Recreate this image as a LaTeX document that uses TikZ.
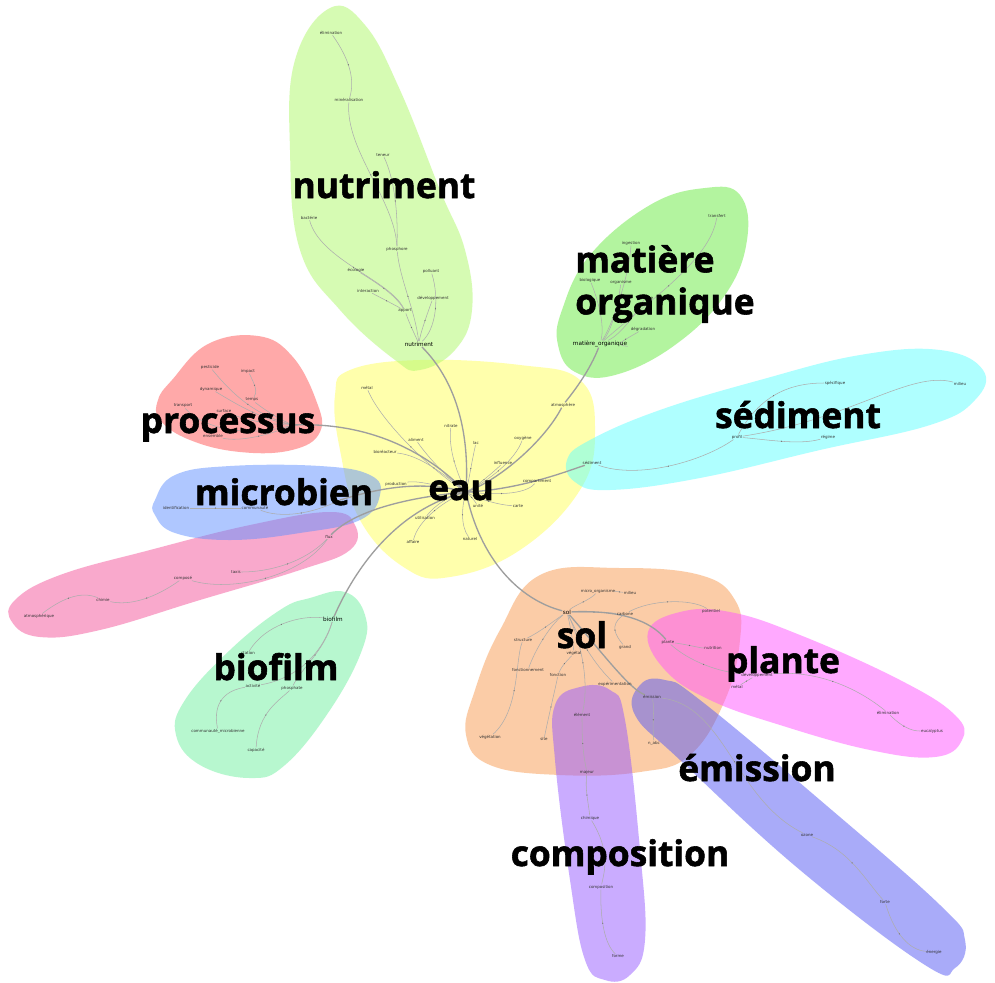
\documentclass[tikz,border=0pt]{standalone}
\usepackage{fontspec}
\setmainfont{Open Sans}
\newfontfamily\labfont{Open Sans}[BoldFeatures={FakeBold=1.6}]
\newfontfamily\smfont{DejaVu Sans}
\usetikzlibrary{decorations.markings}
\pgfdeclarelayer{hull}
\pgfdeclarelayer{edges}
\pgfsetlayers{hull,edges,main}
\definecolor{cnut}{RGB}{175,249,105}
\definecolor{cmo}{RGB}{105,235,65}
\definecolor{ceau}{RGB}{255,255,90}
\definecolor{csed}{RGB}{97,255,255}
\definecolor{cpro}{RGB}{255,85,85}
\definecolor{cmic}{RGB}{97,145,255}
\definecolor{cpink}{RGB}{245,85,155}
\definecolor{cbio}{RGB}{113,241,161}
\definecolor{csol}{RGB}{249,155,81}
\definecolor{cpla}{RGB}{255,85,255}
\definecolor{cemi}{RGB}{85,89,245}
\definecolor{ccom}{RGB}{150,90,255}
\tikzset{
  sm/.style={font=\smfont\fontsize{3}{3.5}\selectfont, text=black!80, inner sep=0.3pt},
  hub/.style={font=\smfont\fontsize{4.3}{5}\selectfont, text=black, inner sep=0.3pt},
  lab/.style={font=\labfont\bfseries\fontsize{26.5}{31.5}\selectfont, inner sep=0pt},
  ed/.style={draw=black!32, line width=0.4pt, postaction={decorate},
    decoration={markings, mark=at position 0.5 with {\fill[black!55] (0,0) circle (0.5pt);}}},
  th/.style={draw=black!38, line width=1pt},
  hullst/.style={fill opacity=0.5, draw=none},
}
\begin{document}
\begin{tikzpicture}[x=0.75pt,y=-0.75pt]
\useasboundingbox (0,0) rectangle (995,982);
\begin{pgfonlayer}{hull}
\fill[white] (0,0) rectangle (995,982);
% eau
\fill[ceau,hullst] plot[smooth cycle, tension=0.7] coordinates {(350,370) (420,360) (520,365) (580,380) (595,430) (580,490) (520,550) (450,577) (405,568) (360,520) (340,450) (335,395)};
% nutriment
\fill[cnut,hullst] plot[smooth cycle, tension=0.7] coordinates {(330,8) (365,25) (400,90) (440,190) (465,250) (472,310) (455,350) (420,370) (395,360) (340,310) (300,250) (290,150) (295,60)};
% matiere organique
\fill[cmo,hullst] plot[smooth cycle, tension=0.7] coordinates {(562,310) (590,255) (650,205) (705,188) (740,195) (747,240) (725,295) (675,345) (615,375) (575,372) (558,345)};
% sediment
\fill[csed,hullst] plot[smooth cycle, tension=0.7] coordinates {(567,460) (590,440) (660,410) (760,380) (860,355) (940,350) (983,370) (975,400) (930,425) (820,450) (700,478) (610,490) (575,482)};
% processus
\fill[cpro,hullst] plot[smooth cycle, tension=0.7] coordinates {(172,380) (208,344) (258,336) (292,356) (316,400) (320,432) (292,450) (240,452) (190,440) (160,420) (158,400)};
% pink
\fill[cpink,hullst] plot[smooth cycle, tension=0.7] coordinates {(15,600) (60,575) (150,550) (250,525) (330,512) (355,525) (350,550) (300,570) (200,600) (100,630) (40,637) (12,622)};
% microbien
\fill[cmic,hullst] plot[smooth cycle, tension=0.7] coordinates {(155,500) (175,475) (230,466) (320,466) (370,475) (380,495) (360,520) (300,533) (230,540) (175,533) (155,515)};
% biofilm
\fill[cbio,hullst] plot[smooth cycle, tension=0.7] coordinates {(310,598) (345,592) (365,615) (362,650) (330,710) (285,765) (250,778) (200,765) (176,735) (185,700) (230,650) (280,610)};
% sol
\fill[csol,hullst] plot[smooth cycle, tension=0.7] coordinates {(540,575) (620,568) (700,575) (735,600) (740,640) (725,700) (690,755) (640,772) (560,775) (490,765) (466,735) (475,690) (500,630)};
% plante
\fill[cpla,hullst] plot[smooth cycle, tension=0.7] coordinates {(648,632) (680,612) (730,612) (800,635) (900,680) (955,715) (962,740) (935,757) (870,750) (780,725) (710,700) (665,670)};
% emission
\fill[cemi,hullst] plot[smooth cycle, tension=0.7] coordinates {(640,685) (665,680) (700,700) (820,800) (940,905) (965,940) (955,968) (925,965) (800,870) (680,760) (635,715)};
% composition
\fill[ccom,hullst] plot[smooth cycle, tension=0.7] coordinates {(555,705) (580,687) (610,690) (625,720) (640,850) (645,940) (630,975) (605,980) (585,960) (570,880) (555,760)};
\end{pgfonlayer}

% ---------- nutriment
\node[sm] (nu1) at (331,33) {élimination};
\node[sm] (nu2) at (349,100) {minéralisation};
\node[sm] (nu3) at (383,155) {teneur};
\node[sm] (nu4) at (309,218) {bactérie};
\node[sm] (nu5) at (397,249) {phosphore};
\node[sm] (nu6) at (356,270) {écologie};
\node[sm] (nu7) at (431,271) {polluant};
\node[sm] (nu8) at (368,291) {interaction};
\node[sm] (nu9) at (433,298) {développement};
\node[sm] (nu10) at (405,311) {apport};
\node[hub] (nut) at (419,344) {nutriment};
% ---------- matiere organique
\node[sm] (mo1) at (717,216) {transfert};
\node[sm] (mo2) at (631,243) {ingestion};
\node[sm] (mo3) at (590,280) {biologique};
\node[sm] (mo4) at (621,282) {organisme};
\node[sm] (mo5) at (645,298) {carbone};
\node[sm] (mo6) at (643,329) {dégradation};
\node[hub] (mo) at (600,344) {matière\_organique};
% ---------- eau
\coordinate (eauhub) at (466,492);
\node[sm] (ea1) at (367,388) {métal};
\node[sm] (ea2) at (451,426) {nitrate};
\node[sm] (ea3) at (476,443) {lac};
\node[sm] (ea4) at (416,440) {aliment};
\node[sm] (ea5) at (385,452) {bioréacteur};
\node[sm] (ea6) at (523,438) {oxygène};
\node[sm] (ea7) at (563,405) {atmosphère};
\node[sm] (ea8) at (503,463) {influence};
\node[sm] (ea9) at (537,481) {compartiment};
\node[sm] (ea10) at (396,484) {production};
\node[sm] (ea11) at (478,506) {unité};
\node[sm] (ea12) at (518,506) {carte};
\node[sm] (ea13) at (425,518) {utilisation};
\node[sm] (ea14) at (413,542) {affaire};
\node[sm] (ea15) at (470,539) {naturel};
% ---------- processus
\node[sm] (pr1) at (210,367) {pesticide};
\node[sm] (pr2) at (248,371) {impact};
\node[sm] (pr3) at (211,389) {dynamique};
\node[sm] (pr4) at (252,400) {temps};
\node[sm] (pr5) at (183,406) {transport};
\node[sm] (pr6) at (224,411) {surface};
\node[sm] (pr7) at (213,436) {ensemble};
\coordinate (prhub) at (293,425);
% ---------- microbien
\node[sm] (mi1) at (176,508) {identification};
\node[sm] (mi2) at (255,508) {communauté};
\coordinate (mihub) at (340,500);
% ---------- pink
\node[sm] (pk1) at (329,537) {flux};
\node[sm] (pk2) at (236,572) {taxis};
\node[sm] (pk3) at (183,578) {composé};
\node[sm] (pk4) at (103,600) {chimie};
\node[sm] (pk5) at (39,616) {atmosphérique};
% ---------- biofilm
\node[hub] (bihub) at (333,619) {biofilm};
\node[sm] (bi1) at (248,653) {station};
\node[sm] (bi2) at (253,686) {activité};
\node[sm] (bi3) at (292,688) {phosphate};
\node[sm] (bi4) at (218,731) {communauté\_microbienne};
\node[sm] (bi5) at (256,750) {capacité};
% ---------- sediment
\node[sm] (sehub) at (592,463) {sédiment};
\node[sm] (se1) at (835,383) {spécifique};
\node[sm] (se2) at (960,384) {milieu};
\node[sm] (se3) at (737,437) {profil};
\node[sm] (se4) at (828,437) {régime};
% ---------- sol
\node[hub] (sohub) at (567,612) {sol};
\node[sm] (so1) at (598,591) {micro\_organisme};
\node[sm] (so2) at (630,593) {milieu};
\node[sm] (so3) at (625,614) {carbone};
\node[sm] (so4) at (711,611) {potentiel};
\node[sm] (so5) at (523,640) {structure};
\node[sm] (so6) at (625,647) {grand};
\node[sm] (so7) at (528,670) {fonctionnement};
\node[sm] (so8) at (574,653) {végétal};
\node[sm] (so9) at (558,675) {fonction};
\node[sm] (so10) at (615,684) {expérimentation};
\node[sm] (so11) at (582,715) {élément};
\node[sm] (so12) at (544,739) {site};
\node[sm] (so13) at (490,737) {végétation};
\node[sm] (so14) at (654,743) {n\_abc};
\node[sm] (so15) at (587,772) {majeur};
% ---------- plante
\node[sm] (plhub) at (668,642) {plante};
\node[sm] (pl1) at (713,648) {nutrition};
\node[sm] (pl2) at (757,675) {développement};
\node[sm] (pl3) at (737,687) {métal};
\node[sm] (pl4) at (888,713) {élimination};
\node[sm] (pl5) at (932,731) {eucalyptus};
% ---------- emission
\node[sm] (emhub) at (652,697) {émission};
\node[sm] (em1) at (807,835) {ozone};
\node[sm] (em2) at (885,902) {forte};
\node[sm] (em3) at (934,952) {énergie};
% ---------- composition
\node[sm] (co1) at (590,818) {chimique};
\node[sm] (co2) at (601,887) {composition};
\node[sm] (co3) at (618,956) {forme};

\begin{pgfonlayer}{edges}
% nutriment
\draw[ed] (nu1) .. controls (350,60) and (355,80) .. (nu2);
\draw[ed] (nu2) .. controls (345,150) and (395,200) .. (nu5);
\draw[ed] (nu3) .. controls (395,180) and (398,215) .. (nu5);
\draw[ed] (nu5) .. controls (400,280) and (415,310) .. (nut);
\draw[ed] (nu4) .. controls (320,260) and (390,280) .. (nu10);
\draw[ed] (nu6) .. controls (380,285) and (395,295) .. (nu10);
\draw[ed] (nu8) .. controls (385,300) and (395,305) .. (nu10);
\draw[ed] (nu10) .. controls (410,325) and (415,335) .. (nut);
\draw[ed] (nu7) .. controls (440,300) and (435,330) .. (nut);
\draw[ed] (nu9) .. controls (425,320) and (420,335) .. (nut);
\draw[th] (nut) .. controls (455,380) and (470,430) .. (eauhub);
% matiere organique
\draw[ed] (mo1) .. controls (710,260) and (650,300) .. (mo);
\draw[ed] (mo2) .. controls (630,270) and (615,320) .. (mo);
\draw[ed] (mo3) .. controls (598,300) and (605,325) .. (mo);
\draw[ed] (mo4) .. controls (618,305) and (612,330) .. (mo);
\draw[ed] (mo5) .. controls (635,315) and (620,335) .. (mo);
\draw[ed] (mo6) .. controls (625,340) and (612,345) .. (mo);
\draw[th] (mo) .. controls (590,370) and (575,390) .. (ea7);
% eau
\draw[ed] (ea1) .. controls (380,420) and (430,470) .. (eauhub);
\draw[ed] (ea2) .. controls (448,450) and (458,475) .. (eauhub);
\draw[ed] (ea3) .. controls (472,460) and (470,475) .. (eauhub);
\draw[ed] (ea4) .. controls (430,460) and (450,480) .. (eauhub);
\draw[ed] (ea5) .. controls (420,455) and (445,475) .. (eauhub);
\draw[ed] (ea6) .. controls (515,460) and (490,480) .. (eauhub);
\draw[th] (ea7) .. controls (545,440) and (500,480) .. (eauhub);
\draw[ed] (ea8) .. controls (490,475) and (478,485) .. (eauhub);
\draw[ed] (ea9) .. controls (525,495) and (495,495) .. (eauhub);
\draw[ed] (ea10) .. controls (420,480) and (445,488) .. (eauhub);
\draw[ed] (ea11) .. controls (474,500) and (470,495) .. (eauhub);
\draw[ed] (ea12) .. controls (500,505) and (480,500) .. (eauhub);
\draw[ed] (ea13) .. controls (435,505) and (450,495) .. (eauhub);
\draw[ed] (ea14) .. controls (418,520) and (445,500) .. (eauhub);
\draw[ed] (ea15) .. controls (460,525) and (462,505) .. (eauhub);
% processus
\draw[ed] (pr1) .. controls (225,385) and (250,415) .. (prhub);
\draw[ed] (pr2) .. controls (255,385) and (258,392) .. (pr4);
\draw[ed] (pr4) .. controls (265,410) and (280,420) .. (prhub);
\draw[ed] (pr3) .. controls (230,400) and (260,420) .. (prhub);
\draw[ed] (pr5) .. controls (200,425) and (240,440) .. (prhub);
\draw[ed] (pr6) .. controls (245,420) and (270,425) .. (prhub);
\draw[ed] (pr7) .. controls (240,442) and (270,435) .. (prhub);
\draw[th] (prhub) .. controls (360,422) and (420,445) .. (eauhub);
% microbien
\draw[ed] (mi1) .. controls (200,508) and (230,508) .. (mi2);
\draw[ed] (mi2) .. controls (280,518) and (310,515) .. (mihub);
\draw[th] (mihub) .. controls (380,488) and (420,480) .. (eauhub);
% pink
\draw[ed] (pk5) .. controls (60,600) and (80,590) .. (pk4);
\draw[ed] (pk4) .. controls (130,606) and (155,598) .. (pk3);
\draw[ed] (pk3) .. controls (230,592) and (300,578) .. (pk1);
\draw[ed] (pk2) .. controls (270,572) and (305,562) .. (pk1);
\draw[th] (pk1) .. controls (345,520) and (380,500) .. (eauhub);
% biofilm
\draw[ed] (bi1) .. controls (265,625) and (300,615) .. (bihub);
\draw[ed] (bi2) .. controls (290,680) and (320,660) .. (bihub);
\draw[ed] (bi3) .. controls (300,670) and (325,650) .. (bihub);
\draw[ed] (bi4) .. controls (212,700) and (228,690) .. (bi2);
\draw[ed] (bi5) .. controls (258,712) and (280,700) .. (bi3);
\draw[th] (bihub) .. controls (350,580) and (390,510) .. (eauhub);
% sediment
\draw[ed] (se2) .. controls (910,370) and (850,420) .. (se3);
\draw[ed] (se1) .. controls (790,383) and (760,395) .. (se3);
\draw[ed] (se4) .. controls (800,445) and (770,440) .. (se3);
\draw[ed] (se3) .. controls (705,460) and (640,480) .. (sehub);
\draw[th] (sehub) .. controls (570,470) and (520,490) .. (eauhub);
% sol
\draw[th] (sohub) .. controls (520,600) and (480,560) .. (eauhub);
\draw[ed] (so1) .. controls (590,600) and (575,605) .. (sohub);
\draw[ed] (so2) .. controls (620,592) and (612,591) .. (so1);
\draw[ed] (so3) .. controls (600,612) and (585,612) .. (sohub);
\draw[ed] (so4) .. controls (690,598) and (650,600) .. (so3);
\draw[ed] (so5) .. controls (540,632) and (555,620) .. (sohub);
\draw[ed] (so6) .. controls (615,635) and (610,625) .. (so3);
\draw[ed] (so7) .. controls (535,650) and (550,625) .. (sohub);
\draw[ed] (so8) .. controls (572,635) and (570,625) .. (sohub);
\draw[ed] (so9) .. controls (562,665) and (568,660) .. (so8);
\draw[ed] (so10) .. controls (595,665) and (580,640) .. (sohub);
\draw[ed] (so11) .. controls (590,680) and (580,640) .. (sohub);
\draw[ed] (so12) .. controls (550,710) and (555,690) .. (so9);
\draw[ed] (so13) .. controls (520,710) and (515,660) .. (so5);
\draw[ed] (so14) .. controls (652,720) and (655,710) .. (emhub);
\draw[ed] (so15) .. controls (582,750) and (582,730) .. (so11);
% plante
\draw[th] (sohub) .. controls (620,610) and (650,620) .. (plhub);
\draw[ed] (plhub) .. controls (690,645) and (700,648) .. (pl1);
\draw[ed] (plhub) .. controls (690,662) and (720,672) .. (pl2);
\draw[ed] (pl3) .. controls (745,682) and (750,679) .. (pl2);
\draw[ed] (pl2) .. controls (820,670) and (860,690) .. (pl4);
\draw[ed] (pl4) .. controls (905,730) and (915,731) .. (pl5);
% emission
\draw[th] (sohub) .. controls (600,650) and (630,690) .. (emhub);
\draw[ed] (emhub) .. controls (725,705) and (735,800) .. (em1);
\draw[ed] (em1) .. controls (850,850) and (865,880) .. (em2);
\draw[ed] (em2) .. controls (895,935) and (910,950) .. (em3);
% composition
\draw[ed] (so15) .. controls (585,790) and (588,800) .. (co1);
\draw[ed] (co1) .. controls (610,850) and (605,870) .. (co2);
\draw[ed] (co2) .. controls (600,920) and (605,945) .. (co3);
\end{pgfonlayer}

% ---------- big labels
\node[lab, anchor=base] (Lnut) at (384,198) {nutriment};
\node[lab, anchor=west, align=left] (Lmo) at (575,284) {matière\\organique};
\node[lab, anchor=base] (Lpro) at (228,433) {processus};
\node[lab, anchor=base] (Lmic) at (284,505) {microbien};
\node[lab, anchor=base] (Leau) at (461,500) {eau};
\node[lab, anchor=base] (Lsed) at (798,428) {sédiment};
\node[lab, anchor=base] (Lbio) at (276,680) {biofilm};
\node[lab, anchor=base] (Lsol) at (582,648) {sol};
\node[lab, anchor=base] (Lpla) at (783,673) {plante};
\node[lab, anchor=base] (Lemi) at (757,781) {émission};
\node[lab, anchor=base] (Lcom) at (620,866) {composition};
\end{tikzpicture}
\end{document}
